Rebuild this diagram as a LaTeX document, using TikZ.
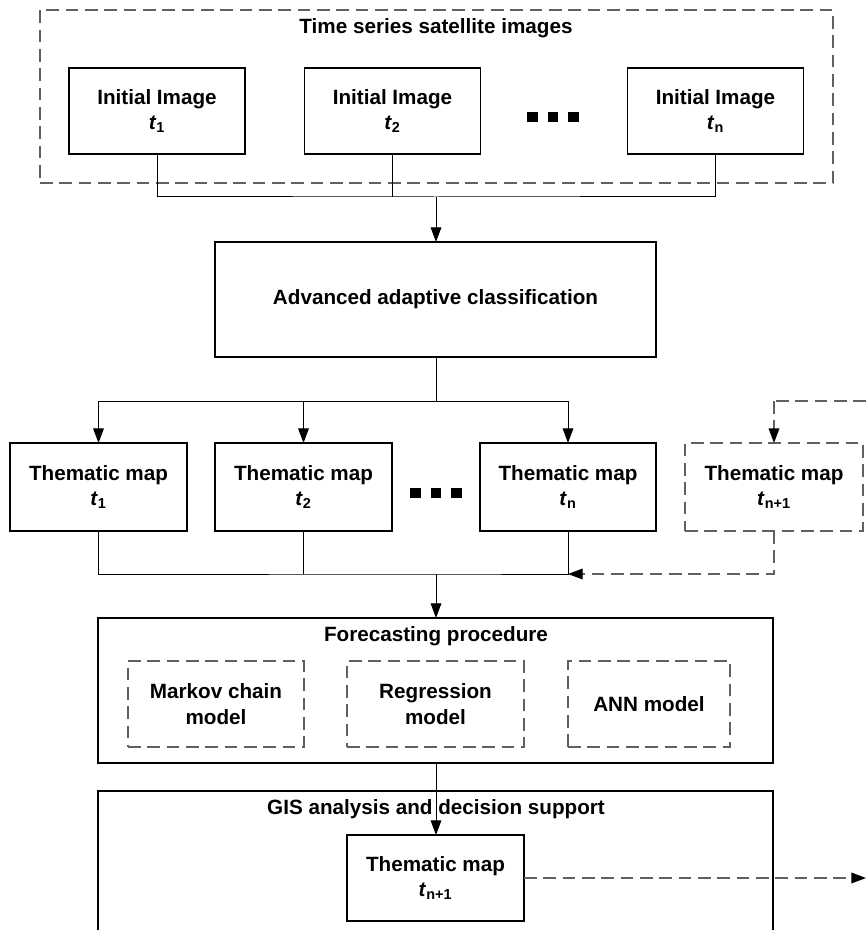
\documentclass[tikz,border=0pt]{standalone}
\usepackage{fontspec}
\setmainfont{Liberation Sans}
\usetikzlibrary{arrows.meta}
\definecolor{dgray}{RGB}{96,96,96}
\begin{document}
\begin{tikzpicture}[x=0.75pt,y=-0.75pt,
  every node/.style={font=\fontsize{15.5}{19}\selectfont\bfseries, align=center, inner sep=0pt, outer sep=0pt},
  sbox/.style={draw=black, line width=0.8pt, minimum width=132pt, minimum height=64.5pt},
  dbox/.style={draw=dgray, line width=1pt, dash pattern=on 9.5pt off 5pt, minimum width=132pt, minimum height=64.5pt},
  conn/.style={draw=black, line width=0.75pt},
  arr/.style={conn, -{Triangle[length=11pt,width=8pt]}},
  dconn/.style={draw=dgray, line width=1pt, dash pattern=on 9.5pt off 5pt},
  darr/.style={dconn, -{Triangle[length=11pt,width=8pt,color=black]}}
]
\useasboundingbox (0,0) rectangle (866,930);
\newcommand{\sqdots}{\rule{8pt}{7.5pt}\hspace{7.5pt}\rule{8pt}{7.5pt}\hspace{7.5pt}\rule{8pt}{7.5pt}}

% top group
\node[dbox, minimum width=594.75pt, minimum height=129.75pt] (outer) at (436.5,96.5) {};
\node (tstitle) at (436,28) {Time series satellite images};
\node[sbox] (i1) at (157,111) {Initial Image\\\textit{t}\textsubscript{1}};
\node[sbox] (i2) at (392.5,111) {Initial Image\\\textit{t}\textsubscript{2}};
\node[sbox] (i3) at (715.5,111) {Initial Image\\\textit{t}\textsubscript{n}};
\node (dots1) at (553,117) {\sqdots};

% classification
\node[sbox, minimum width=330.75pt, minimum height=86.25pt] (adv) at (435.5,299.5) {Advanced adaptive classification};

% thematic maps
\node[sbox, minimum width=132.75pt, minimum height=66pt] (m1) at (98.5,487) {Thematic map\\\textit{t}\textsubscript{1}};
\node[sbox, minimum width=132.75pt, minimum height=66pt] (m2) at (303.5,487) {Thematic map\\\textit{t}\textsubscript{2}};
\node[sbox, minimum width=132pt, minimum height=66pt] (m3) at (568,487) {Thematic map\\\textit{t}\textsubscript{n}};
\node[dbox, minimum width=133.5pt, minimum height=66pt] (m4) at (774,487) {Thematic map\\\textit{t}\textsubscript{n+1}};
\node (dots2) at (436,493) {\sqdots};

% forecasting
\node[sbox, minimum width=506.25pt, minimum height=108.75pt] (fc) at (435.5,690.5) {};
\node (fctitle) at (436,636) {Forecasting procedure};
\node[dbox] (mk) at (216,704) {Markov chain\\model};
\node[dbox, minimum width=132.75pt] (rg) at (435.5,704) {Regression\\model};
\node[dbox, minimum width=121.5pt] (ann) at (649,704) {ANN model};

% GIS
\coordinate (gl) at (98,940);
\coordinate (gr) at (773,940);
\draw[conn, line width=0.8pt] (gl) -- (98,791) -- (773,791) -- (gr);
\node (gistitle) at (436,809) {GIS analysis and decision support};
\node[sbox, minimum width=132.75pt] (fin) at (435.5,878) {Thematic map\\\textit{t}\textsubscript{n+1}};

% connectors top
\coordinate (jt) at (436,197);
\draw[conn] (i1.south) |- (jt) -| (i3.south);
\draw[conn] (i2.south) -- (i2.south |- jt);
\draw[arr] (jt) -- (adv.north -| jt);

% connectors to thematic maps
\coordinate (jm) at (436,401);
\draw[conn] (adv.south -| jm) -- (jm);
\draw[conn] (m1.north |- jm) -- (m3.north |- jm);
\draw[arr] (m1.north |- jm) -- (m1.north);
\draw[arr] (m2.north |- jm) -- (m2.north);
\draw[arr] (m3.north |- jm) -- (m3.north);
\coordinate (rin) at (866,401);
\draw[dconn] (rin) -- (m4.north |- rin);
\draw[darr] (m4.north |- rin) -- (m4.north);

% connectors bottom of maps
\coordinate (jb) at (436,574);
\draw[conn] (m1.south) |- (jb) -| (m3.south);
\draw[conn] (m2.south) -- (m2.south |- jb);
\draw[darr] (m4.south) |- (m3.south |- jb);
\draw[arr] (jb) -- (fc.north -| jb);

% to final
\draw[arr] (fc.south -| jb) -- (fin.north -| jb);
\coordinate (rout) at (866,878);
\draw[darr] (fin.east) -- (rout);
\end{tikzpicture}
\end{document}
